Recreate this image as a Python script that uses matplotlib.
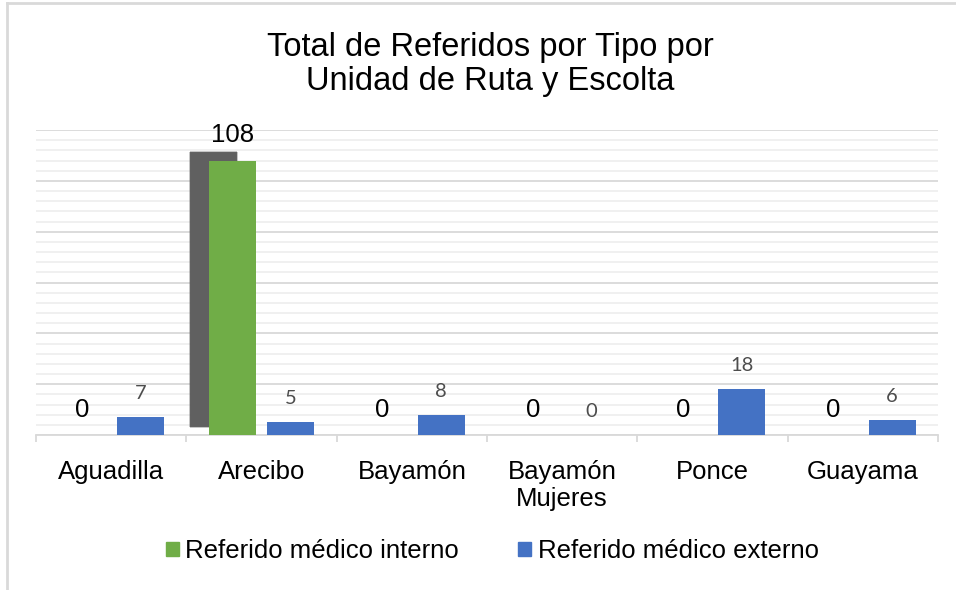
import numpy as np
import matplotlib.pyplot as plt
import matplotlib.patheffects as pe
from matplotlib.patches import Patch
from matplotlib.lines import Line2D
from matplotlib.ticker import MultipleLocator, FixedLocator

# Datos
unidades = ['Aguadilla', 'Arecibo', 'Bayamón', 'Bayamón\nMujeres', 'Ponce', 'Guayama']
interno = [0, 108, 0, 0, 0, 0]
externo = [7, 5, 8, 0, 18, 6]

verde = '#70ad47'
azul = '#4472c4'
gris_linea = '#d9d9d9'
fuente = 'Liberation Sans'

fig = plt.figure(figsize=(9.56, 5.9), dpi=100)
ax = fig.add_axes([36 / 956, 155 / 590, 902 / 956, 305 / 590])

x = np.arange(len(unidades))
off, w = 0.195, 0.313

# sombra difusa: varias capas semitransparentes
sombra = [pe.SimplePatchShadow(offset=(-13.7 + dx, 5.8 + dy), shadow_rgbFace='#5e5e5e', alpha=0.35)
          for dx, dy in [(-0.7, 0), (0.7, 0), (0, 0.7), (0, -0.7)]]
sombra += [pe.SimplePatchShadow(offset=(-13.7, 5.8), shadow_rgbFace='#5e5e5e', alpha=0.9),
           pe.Normal()]
b1 = ax.bar(x - off, interno, w, color=verde, zorder=3)
for r in b1:
    r.set_path_effects(sombra)
b2 = ax.bar(x + off, externo, w, color=azul, zorder=3)

# Etiquetas de datos
for xi, v in zip(x, interno):
    ax.annotate(str(v), (xi - off, v), xytext=(0, 13), textcoords='offset points',
                ha='center', va='baseline', fontsize=18.5, family=fuente, color='black')
for xi, v in zip(x, externo):
    ax.annotate(str(v), (xi + off, v), xytext=(0, 13), textcoords='offset points',
                ha='center', va='baseline', fontsize=14.5, family='Lato', color='#4d4d4d')

ax.set_xlim(-0.5, 5.5)
ax.set_ylim(0, 120)
ax.yaxis.set_major_locator(MultipleLocator(20))
ax.yaxis.set_minor_locator(MultipleLocator(4))
ax.grid(axis='y', which='major', color=gris_linea, linewidth=1.3, zorder=0)
ax.grid(axis='y', which='minor', color='#efefef', linewidth=1.3, zorder=0)
ax.set_axisbelow(True)
ax.tick_params(axis='y', which='both', left=False, labelleft=False)

ax.set_xticks(x)
ax.set_xticklabels(unidades, fontsize=18.5, family=fuente, linespacing=1.15)
ax.xaxis.set_minor_locator(FixedLocator(np.arange(-0.5, 6, 1)))
ax.tick_params(axis='x', which='major', length=0, pad=18)
ax.tick_params(axis='x', which='minor', length=5, width=1.3, color=gris_linea)

for s in ['top', 'right', 'left']:
    ax.spines[s].set_visible(False)
ax.spines['bottom'].set_color(gris_linea)
ax.spines['bottom'].set_linewidth(1.3)

fig.text(0.513, 0.891, 'Total de Referidos por Tipo por\nUnidad de Ruta y Escolta',
         ha='center', va='center', fontsize=23.5, family=fuente, linespacing=1.15)

handles = [Patch(color=verde, label='Referido médico interno'),
           Patch(color=azul, label='Referido médico externo')]
fig.legend(handles=handles, loc='center', bbox_to_anchor=(0.515, 0.066), ncol=2,
           frameon=False, prop={'family': fuente, 'size': 18.5},
           handlelength=0.5, handleheight=0.5, handletextpad=0.25, columnspacing=2.3)

# Borde del gráfico
fig.add_artist(Line2D([7 / 956, 7 / 956], [0, 587 / 590], color=gris_linea, linewidth=2))
fig.add_artist(Line2D([7 / 956, 1], [587 / 590, 587 / 590], color=gris_linea, linewidth=2))

fig.savefig('out.png', dpi=100)
